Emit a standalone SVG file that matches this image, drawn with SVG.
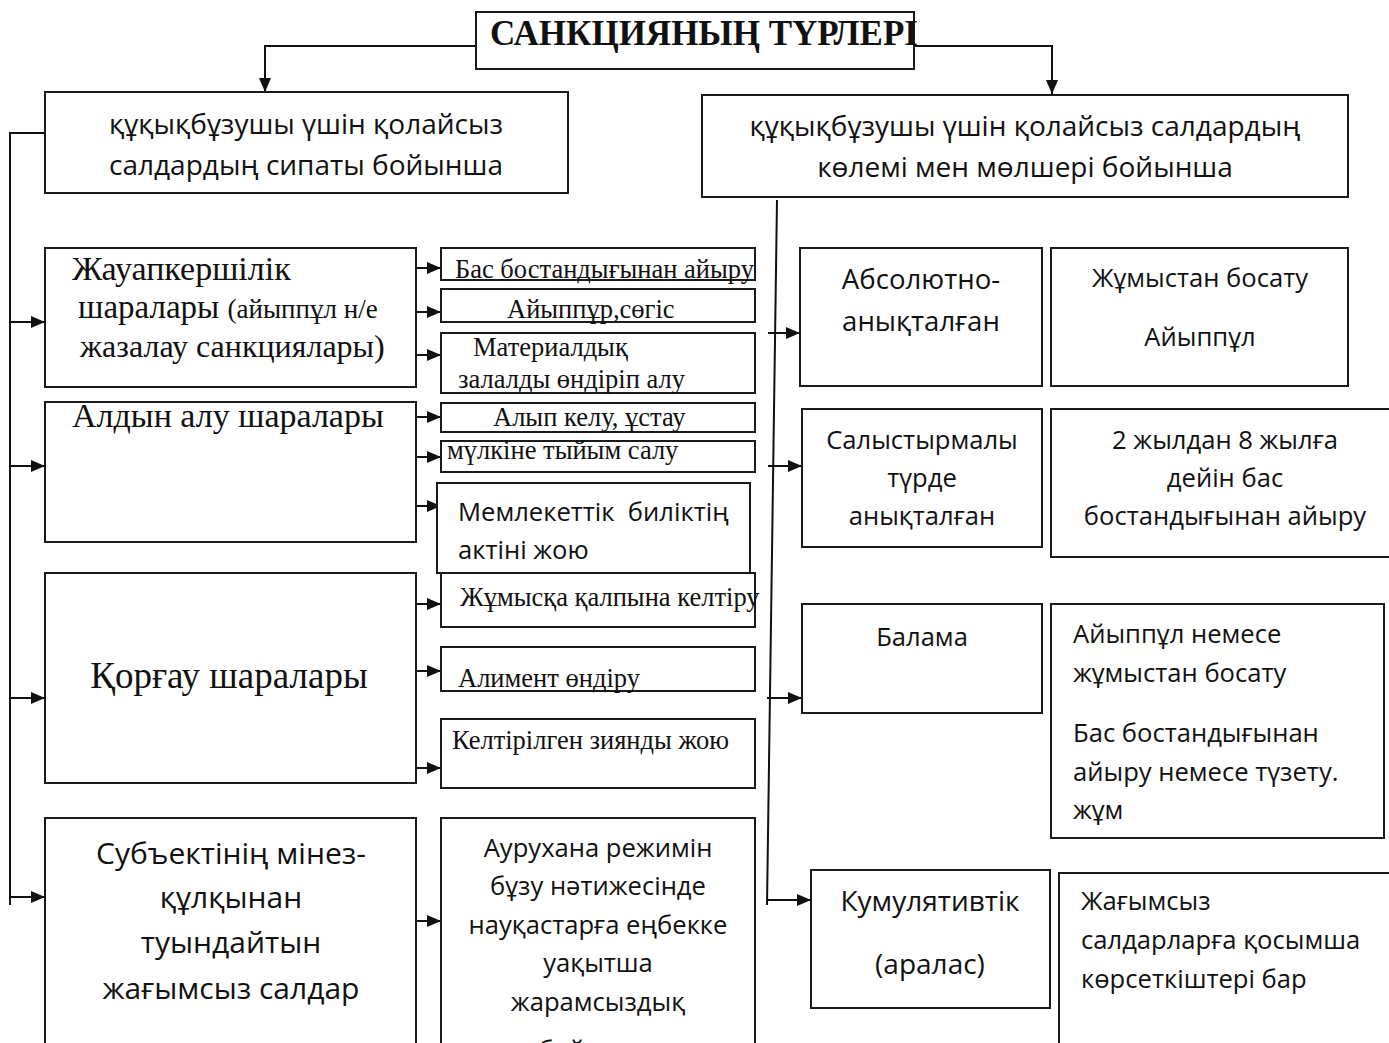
<svg xmlns="http://www.w3.org/2000/svg" width="1389" height="1043" viewBox="0 0 1389 1043">
<style>
.box{fill:#fff;stroke:#1a1a1a;stroke-width:2}
.con{fill:none;stroke:#111;stroke-width:2}
.tm{font-family:"Liberation Serif","Times New Roman",serif;fill:#111}
.tms{font-family:"Liberation Serif","Times New Roman",serif;fill:#111;font-size:26.5px}
.sa{font-family:"Open Sans","Noto Sans","Liberation Sans",sans-serif;fill:#111}
.s25{font-size:25.6px}
.c{text-anchor:middle}
</style>
<defs>
<marker id="ah" markerUnits="userSpaceOnUse" markerWidth="14" markerHeight="12" viewBox="0 0 14 12" refX="14" refY="6" orient="auto"><path d="M0,0 L14,6 L0,12 z" fill="#111"/></marker>
</defs>
<rect width="1389" height="1043" fill="#fff"/>

<g id="connectors">
<polyline class="con" points="476,46 265,46 265,92" marker-end="url(#ah)"/>
<polyline class="con" points="914,46 1052,46 1052,94" marker-end="url(#ah)"/>
<polyline class="con" points="45,133 10,133 10,905"/>
<line class="con" x1="10" y1="322" x2="45" y2="322" marker-end="url(#ah)"/>
<line class="con" x1="10" y1="466" x2="45" y2="466" marker-end="url(#ah)"/>
<line class="con" x1="10" y1="698" x2="45" y2="698" marker-end="url(#ah)"/>
<line class="con" x1="10" y1="897" x2="45" y2="897" marker-end="url(#ah)"/>
<line class="con" x1="416" y1="268" x2="441" y2="268" marker-end="url(#ah)"/>
<line class="con" x1="416" y1="312" x2="441" y2="312" marker-end="url(#ah)"/>
<line class="con" x1="416" y1="355" x2="441" y2="355" marker-end="url(#ah)"/>
<line class="con" x1="416" y1="417" x2="441" y2="417" marker-end="url(#ah)"/>
<line class="con" x1="416" y1="457" x2="441" y2="457" marker-end="url(#ah)"/>
<line class="con" x1="416" y1="506" x2="441" y2="506" marker-end="url(#ah)"/>
<line class="con" x1="416" y1="604" x2="441" y2="604" marker-end="url(#ah)"/>
<line class="con" x1="416" y1="671" x2="441" y2="671" marker-end="url(#ah)"/>
<line class="con" x1="416" y1="768" x2="441" y2="768" marker-end="url(#ah)"/>
<line class="con" x1="416" y1="921" x2="441" y2="921" marker-end="url(#ah)"/>
<line class="con" x1="777" y1="200" x2="767" y2="905"/>
<line class="con" x1="768" y1="333" x2="800" y2="333" marker-end="url(#ah)"/>
<line class="con" x1="768" y1="466" x2="802" y2="466" marker-end="url(#ah)"/>
<line class="con" x1="767" y1="698" x2="802" y2="698" marker-end="url(#ah)"/>
<line class="con" x1="767" y1="900" x2="811" y2="900" marker-end="url(#ah)"/>
</g>

<g id="title">
<rect class="box" x="476" y="12" width="438" height="57"/>
<text class="tm" x="490" y="45" font-size="35" font-weight="bold">САНКЦИЯНЫҢ ТҮРЛЕРІ</text>
</g>

<g id="left-head">
<rect class="box" x="45" y="92" width="523" height="101"/>
<text class="sa c" x="306" y="134" font-size="28">құқықбұзушы үшін қолайсыз</text>
<text class="sa c" x="306" y="175" font-size="28">салдардың сипаты бойынша</text>
</g>

<g id="right-head">
<rect class="box" x="702" y="95" width="646" height="102"/>
<text class="sa c" x="1025" y="136" font-size="28">құқықбұзушы үшін қолайсыз салдардың</text>
<text class="sa c" x="1025" y="177" font-size="28">көлемі мен мөлшері бойынша</text>
</g>

<g id="b1">
<rect class="box" x="45" y="248" width="371" height="139"/>
<text class="tm" x="72" y="280" font-size="34">Жауапкершілік</text>
<text class="tm" x="78" y="318" font-size="33">шаралары <tspan font-size="27">(айыппұл н/е</tspan></text>
<text class="tm" x="80" y="357" font-size="32">жазалау санкциялары)</text>
</g>

<g id="b2">
<rect class="box" x="45" y="402" width="371" height="140"/>
<text class="tm" x="72" y="427" font-size="34">Алдын алу шаралары</text>
</g>

<g id="b3">
<rect class="box" x="45" y="573" width="371" height="210"/>
<text class="tm c" x="229" y="688" font-size="37">Қорғау шаралары</text>
</g>

<g id="b4">
<rect class="box" x="45" y="818" width="371" height="240"/>
<text class="sa c" x="231" y="864" font-size="30">Субъектінің мінез-</text>
<text class="sa c" x="231" y="908" font-size="30">құлқынан</text>
<text class="sa c" x="231" y="953" font-size="30">туындайтын</text>
<text class="sa c" x="231" y="999" font-size="30">жағымсыз салдар</text>
</g>

<g id="m1">
<rect class="box" x="441" y="248" width="314" height="32"/>
<text class="tms" x="455" y="278">Бас бостандығынан айыру</text>
</g>
<g id="m2">
<rect class="box" x="441" y="289" width="314" height="33"/>
<text class="tms" x="507" y="318">Айыппұр,сөгіс</text>
</g>
<g id="m3">
<rect class="box" x="441" y="333" width="314" height="60"/>
<text class="tms" x="473" y="356">Материалдық</text>
<text class="tms" x="458" y="388">залалды өндіріп алу</text>
</g>
<g id="m4">
<rect class="box" x="441" y="403" width="314" height="29"/>
<text class="tms" x="493" y="426">Алып келу, ұстау</text>
</g>
<g id="m5">
<rect class="box" x="441" y="441" width="314" height="31"/>
<text class="tms" x="447" y="459">мүлкіне тыйым салу</text>
</g>
<g id="m6">
<rect class="box" x="437" y="483" width="313" height="90"/>
<text class="sa s25" x="458" y="521" xml:space="preserve">Мемлекеттік  биліктің</text>
<text class="sa s25" x="458" y="559">актіні жою</text>
</g>
<g id="m7">
<rect class="box" x="441" y="573" width="314" height="54"/>
<text class="tms" x="460" y="606">Жұмысқа қалпына келтіру</text>
</g>
<g id="m8">
<rect class="box" x="441" y="647" width="314" height="44"/>
<text class="tms" x="458" y="687">Алимент өндіру</text>
</g>
<g id="m9">
<rect class="box" x="441" y="719" width="314" height="69"/>
<text class="tms" x="452" y="749">Келтірілген зиянды жою</text>
</g>
<g id="m10">
<rect class="box" x="441" y="818" width="314" height="240"/>
<text class="sa s25 c" x="598" y="857">Аурухана режимін</text>
<text class="sa s25 c" x="598" y="895">бұзу нәтижесінде</text>
<text class="sa s25 c" x="598" y="934">науқастарға еңбекке</text>
<text class="sa s25 c" x="598" y="972">уақытша</text>
<text class="sa s25 c" x="598" y="1011">жарамсыздық</text>
<text class="sa s25 c" x="598" y="1059">бойынша</text>
</g>

<g id="r1">
<rect class="box" x="800" y="248" width="242" height="138"/>
<text class="sa c" x="921" y="289" font-size="27.6">Абсолютно-</text>
<text class="sa c" x="921" y="331" font-size="27.6">анықталған</text>
</g>
<g id="r1b">
<rect class="box" x="1051" y="248" width="297" height="138"/>
<text class="sa s25 c" x="1200" y="287">Жұмыстан босату</text>
<text class="sa s25 c" x="1200" y="346">Айыппұл</text>
</g>
<g id="r2">
<rect class="box" x="802" y="409" width="240" height="138"/>
<text class="sa s25 c" x="922" y="449">Салыстырмалы</text>
<text class="sa s25 c" x="922" y="487">түрде</text>
<text class="sa s25 c" x="922" y="525">анықталған</text>
</g>
<g id="r2b">
<rect class="box" x="1051" y="409" width="345" height="148"/>
<text class="sa s25 c" x="1225" y="449">2 жылдан 8 жылға</text>
<text class="sa s25 c" x="1225" y="487">дейін бас</text>
<text class="sa s25 c" x="1225" y="525">бостандығынан айыру</text>
</g>
<g id="r3">
<rect class="box" x="802" y="604" width="240" height="109"/>
<text class="sa s25 c" x="922" y="646">Балама</text>
</g>
<g id="r3b">
<rect class="box" x="1051" y="604" width="333" height="234"/>
<text class="sa s25" x="1073" y="643">Айыппұл немесе</text>
<text class="sa s25" x="1073" y="682">жұмыстан босату</text>
<text class="sa s25" x="1073" y="742">Бас бостандығынан</text>
<text class="sa s25" x="1073" y="781">айыру немесе түзету.</text>
<text class="sa s25" x="1073" y="819">жұм</text>
</g>
<g id="r4">
<rect class="box" x="811" y="870" width="239" height="138"/>
<text class="sa c" x="930" y="911" font-size="28">Кумулятивтік</text>
<text class="sa c" x="930" y="974" font-size="28">(аралас)</text>
</g>
<g id="r4b">
<rect class="box" x="1059" y="873" width="340" height="190"/>
<text class="sa s25" x="1081" y="910">Жағымсыз</text>
<text class="sa s25" x="1081" y="949">салдарларға қосымша</text>
<text class="sa s25" x="1081" y="988">көрсеткіштері бар</text>
</g>
</svg>
